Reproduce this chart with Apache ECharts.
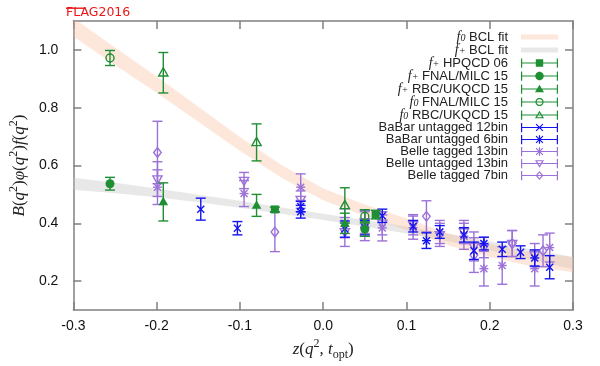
<!DOCTYPE html>
<html><head><meta charset="utf-8">
<script src="https://cdn.jsdelivr.net/npm/echarts@6/dist/echarts.min.js"></script>
<style>html,body{margin:0;padding:0;background:#fff}#c{width:600px;height:366px}</style>
</head><body><div id="c"></div>
<script>
// ---------------- data ----------------
const xTicks = [-0.3, -0.2, -0.1, 0, 0.1, 0.2, 0.3];
const yTicks = [0.2, 0.4, 0.6, 0.8, 1.0];

// fit bands (centre and half-width read at these z values)
const bandZ  = [-0.3, -0.25, -0.2, -0.15, -0.1, -0.05, 0, 0.05, 0.1, 0.15, 0.2, 0.25, 0.3];
const f0Mid  = [1.078, 0.978, 0.880, 0.777, 0.675, 0.580, 0.500, 0.445, 0.397, 0.345, 0.305, 0.275, 0.257];
const f0Half = [0.032, 0.030, 0.028, 0.026, 0.024, 0.022, 0.020, 0.020, 0.020, 0.021, 0.022, 0.024, 0.026];
const fpMid  = [0.537, 0.522, 0.505, 0.486, 0.466, 0.444, 0.422, 0.400, 0.377, 0.351, 0.322, 0.292, 0.262];
const fpHalf = [0.021, 0.018, 0.015, 0.013, 0.012, 0.011, 0.011, 0.011, 0.012, 0.013, 0.015, 0.018, 0.021];

// lattice
const hpqcdZ = [-0.058, 0.063];
const hpqcdY = [0.448, 0.430];
const hpqcdE = [0.008, 0.015];

const fnalPZ = [-0.256, 0.050];
const fnalPY = [0.537, 0.380];
const fnalPE = [0.022, 0.025];

const rbcPZ = [-0.192, -0.080, 0.026];
const rbcPY = [0.474, 0.462, 0.400];
const rbcPE = [0.066, 0.038, 0.035];

const fnal0Z = [-0.256, 0.050];
const fnal0Y = [0.972, 0.424];
const fnal0E = [0.026, 0.023];

const rbc0Z = [-0.192, -0.080, 0.026];
const rbc0Y = [0.921, 0.680, 0.462];
const rbc0E = [0.070, 0.064, 0.061];

// experiment
const babar12Z = [-0.147, -0.103, -0.027, 0.026, 0.071, 0.108, 0.140, 0.169, 0.181, 0.215, 0.237, 0.272];
const babar12Y = [0.449, 0.383, 0.458, 0.380, 0.426, 0.390, 0.370, 0.360, 0.305, 0.310, 0.300, 0.248];
const babar12E = [0.038, 0.023, 0.018, 0.028, 0.023, 0.020, 0.022, 0.025, 0.030, 0.025, 0.022, 0.040];

const babar6Z = [-0.027, 0.050, 0.124, 0.193, 0.254];
const babar6Y = [0.440, 0.385, 0.340, 0.330, 0.280];
const babar6E = [0.022, 0.025, 0.027, 0.022, 0.028];

const belleT13Z = [-0.199, -0.095, -0.027, 0.026, 0.050, 0.071, 0.108, 0.140, 0.169, 0.193, 0.215, 0.254, 0.272];
const belleT13Y = [0.525, 0.503, 0.525, 0.400, 0.390, 0.384, 0.385, 0.370, 0.355, 0.243, 0.254, 0.243, 0.316];
const belleT13E = [0.060, 0.045, 0.046, 0.050, 0.050, 0.045, 0.040, 0.040, 0.045, 0.060, 0.065, 0.060, 0.050];

const belleU13Z = [-0.199, -0.095, -0.027, 0.026, 0.050, 0.071, 0.108, 0.140, 0.169, 0.181, 0.193, 0.227, 0.254];
const belleU13Y = [0.553, 0.548, 0.482, 0.370, 0.405, 0.400, 0.395, 0.360, 0.370, 0.320, 0.316, 0.330, 0.290];
const belleU13E = [0.060, 0.028, 0.030, 0.050, 0.040, 0.040, 0.035, 0.040, 0.040, 0.050, 0.035, 0.045, 0.040];

const belleT7Z = [-0.199, -0.058, 0.050, 0.124, 0.181, 0.227, 0.264];
const belleT7Y = [0.645, 0.370, 0.400, 0.424, 0.290, 0.330, 0.305];
const belleT7E = [0.108, 0.068, 0.045, 0.054, 0.060, 0.045, 0.055];

// ---------------- styling ----------------
const GREEN = '#1f8f34', BLUE = '#1414f0', PURPLE = '#9c72d8';
const PEACH = 'rgba(250,185,150,0.34)', GREY = 'rgba(200,200,200,0.42)';
const LW = 1.4;

function marker(type, c, color) {
  const x = c[0], y = c[1];
  const st = {stroke: color, lineWidth: LW, fill: 'none'};
  const fl = {fill: color};
  const L = (x1, y1, x2, y2) => ({type: 'line', shape: {x1, y1, x2, y2}, style: st});
  switch (type) {
    case 'sqF': return [{type: 'rect', shape: {x: x - 4, y: y - 4, width: 8, height: 8}, style: fl}];
    case 'cirF': return [{type: 'circle', shape: {cx: x, cy: y, r: 4.5}, style: fl}];
    case 'triF': return [{type: 'polygon', shape: {points: [[x, y - 5.2], [x + 4.8, y + 3.4], [x - 4.8, y + 3.4]]}, style: fl}];
    case 'cirO': return [{type: 'circle', shape: {cx: x, cy: y, r: 4}, style: st}];
    case 'triO': return [{type: 'polygon', shape: {points: [[x, y - 5], [x + 4.6, y + 3.2], [x - 4.6, y + 3.2]]}, style: st}];
    case 'triDO': return [{type: 'polygon', shape: {points: [[x, y + 5], [x + 4.6, y - 3.2], [x - 4.6, y - 3.2]]}, style: st}];
    case 'diaO': return [{type: 'polygon', shape: {points: [[x, y - 4.8], [x + 3.8, y], [x, y + 4.8], [x - 3.8, y]]}, style: st}];
    case 'x': return [L(x - 3.5, y - 3.5, x + 3.5, y + 3.5), L(x - 3.5, y + 3.5, x + 3.5, y - 3.5)];
    case 'star': return [L(x - 3.5, y - 3.5, x + 3.5, y + 3.5), L(x - 3.5, y + 3.5, x + 3.5, y - 3.5),
                         L(x - 4.5, y, x + 4.5, y), L(x, y - 4.5, x, y + 4.5)];
  }
  return [];
}

function errRender(mk, color) {
  return function (params, api) {
    const z = api.value(0), v = api.value(1), e = api.value(2);
    const c = api.coord([z, v]), t = api.coord([z, v + e]), b = api.coord([z, v - e]);
    const st = {stroke: color, lineWidth: LW, fill: 'none'};
    const ch = [
      {type: 'line', shape: {x1: c[0], y1: t[1], x2: c[0], y2: b[1]}, style: st},
      {type: 'line', shape: {x1: c[0] - 5, y1: t[1], x2: c[0] + 5, y2: t[1]}, style: st},
      {type: 'line', shape: {x1: c[0] - 5, y1: b[1], x2: c[0] + 5, y2: b[1]}, style: st}
    ].concat(marker(mk, c, color));
    return {type: 'group', children: ch};
  };
}

function bandRender(mid, half, color) {
  return function (params, api) {
    if (params.dataIndex !== 0) return null;
    const pts = [];
    for (let i = 0; i < bandZ.length; i++) pts.push(api.coord([bandZ[i], mid[i] + half[i]]));
    for (let i = bandZ.length - 1; i >= 0; i--) pts.push(api.coord([bandZ[i], mid[i] - half[i]]));
    const cs = params.coordSys;
    return {type: 'polygon', shape: {points: pts}, style: {fill: color},
      clipPath: {type: 'rect', shape: {x: cs.x, y: cs.y, width: cs.width, height: cs.height}}};
  };
}

// ---- legend icon paths (filled polygons) ----
function poly(pts, cw) {
  let a = 0;
  for (let i = 0; i < pts.length; i++) { const p = pts[i], q = pts[(i + 1) % pts.length]; a += p[0] * q[1] - q[0] * p[1]; }
  if ((a > 0) !== cw) pts = pts.slice().reverse();
  return 'M' + pts.map(p => p[0].toFixed(2) + ',' + p[1].toFixed(2)).join('L') + 'Z';
}
function thick(x0, y0, x1, y1, w) {
  const dx = x1 - x0, dy = y1 - y0, l = Math.hypot(dx, dy), nx = -dy / l * w / 2, ny = dx / l * w / 2;
  return poly([[x0 + nx, y0 + ny], [x1 + nx, y1 + ny], [x1 - nx, y1 - ny], [x0 - nx, y0 - ny]], true);
}
function circ(cx, cy, r, cw) {
  const p = []; for (let i = 0; i < 28; i++) { const a = i / 28 * Math.PI * 2; p.push([cx + r * Math.cos(a), cy + r * Math.sin(a)]); }
  return poly(p, cw);
}
function shrink(pts, cx, cy, f) { return pts.map(p => [cx + (p[0] - cx) * f, cy + (p[1] - cy) * f]); }
const W = 1.3;
const BAR = thick(0, 5, 40, 5, W) + thick(W / 2, 0, W / 2, 10, W) + thick(40 - W / 2, 0, 40 - W / 2, 10, W);
function legIcon(mk) {
  let m = '';
  const tu = [[20, 0.3], [24.9, 8.6], [15.1, 8.6]];
  const td = [[20, 9.7], [24.9, 1.4], [15.1, 1.4]];
  const di = [[20, 0.2], [24.2, 5], [20, 9.8], [15.8, 5]];
  switch (mk) {
    case 'sqF': m = poly([[16, 1], [24, 1], [24, 9], [16, 9]], true); break;
    case 'cirF': m = circ(20, 5, 4.6, true); break;
    case 'triF': m = poly(tu, true); break;
    case 'cirO': m = circ(20, 5, 4.4, true) + circ(20, 5, 3.1, false); break;
    case 'triO': m = poly(tu, true) + poly(shrink(tu, 20, 5.8, 0.55), false); break;
    case 'triDO': m = poly(td, true) + poly(shrink(td, 20, 4.2, 0.55), false); break;
    case 'diaO': m = poly(di, true) + poly(shrink(di, 20, 5, 0.6), false); break;
    case 'x': m = thick(16.3, 1.3, 23.7, 8.7, W) + thick(16.3, 8.7, 23.7, 1.3, W); break;
    case 'star': m = thick(16.3, 1.3, 23.7, 8.7, W) + thick(16.3, 8.7, 23.7, 1.3, W) + thick(20, 0.3, 20, 9.7, W); break;
  }
  return 'path://' + BAR + m;
}
const BAND_ICON = 'path://M0,0L0.01,0L0,0.01Z M40,10L39.99,10L40,9.99Z ' + poly([[0, 2.3], [40, 2.3], [40, 7.7], [0, 7.7]], true);

const errDefs = [
  // name, z, y, e, marker, colour
  ['Belle tagged 7bin', belleT7Z, belleT7Y, belleT7E, 'diaO', PURPLE],
  ['Belle untagged 13bin', belleU13Z, belleU13Y, belleU13E, 'triDO', PURPLE],
  ['Belle tagged 13bin', belleT13Z, belleT13Y, belleT13E, 'star', PURPLE],
  ['BaBar untagged 6bin', babar6Z, babar6Y, babar6E, 'star', BLUE],
  ['BaBar untagged 12bin', babar12Z, babar12Y, babar12E, 'x', BLUE],
  ['f0 RBC/UKQCD 15', rbc0Z, rbc0Y, rbc0E, 'triO', GREEN],
  ['f0 FNAL/MILC 15', fnal0Z, fnal0Y, fnal0E, 'cirO', GREEN],
  ['f+ RBC/UKQCD 15', rbcPZ, rbcPY, rbcPE, 'triF', GREEN],
  ['f+ FNAL/MILC 15', fnalPZ, fnalPY, fnalPE, 'cirF', GREEN],
  ['f+ HPQCD 06', hpqcdZ, hpqcdY, hpqcdE, 'sqF', GREEN]
];

const series = [
  {type: 'custom', name: 'f+ BCL fit', renderItem: bandRender(fpMid, fpHalf, GREY),
   data: bandZ.map((z, i) => [z, fpMid[i]]), encode: {x: 0, y: 1}, itemStyle: {color: GREY}, silent: true},
  {type: 'custom', name: 'f0 BCL fit', renderItem: bandRender(f0Mid, f0Half, PEACH),
   data: bandZ.map((z, i) => [z, f0Mid[i]]), encode: {x: 0, y: 1}, itemStyle: {color: PEACH}, silent: true}
];
errDefs.forEach(d => {
  series.push({type: 'custom', name: d[0], renderItem: errRender(d[4], d[5]),
    data: d[1].map((z, i) => [z, d[2][i], d[3][i]]), encode: {x: 0, y: 1},
    itemStyle: {color: d[5]}, silent: true});
});

const legendOrder = [
  ['f0 BCL fit', BAND_ICON, PEACH],
  ['f+ BCL fit', BAND_ICON, GREY],
  ['f+ HPQCD 06', legIcon('sqF'), GREEN],
  ['f+ FNAL/MILC 15', legIcon('cirF'), GREEN],
  ['f+ RBC/UKQCD 15', legIcon('triF'), GREEN],
  ['f0 FNAL/MILC 15', legIcon('cirO'), GREEN],
  ['f0 RBC/UKQCD 15', legIcon('triO'), GREEN],
  ['BaBar untagged 12bin', legIcon('x'), BLUE],
  ['BaBar untagged 6bin', legIcon('star'), BLUE],
  ['Belle tagged 13bin', legIcon('star'), PURPLE],
  ['Belle untagged 13bin', legIcon('triDO'), PURPLE],
  ['Belle tagged 7bin', legIcon('diaO'), PURPLE]
];

const AX = '#808080';
const SANS = 'Liberation Sans', SERIF = 'Liberation Serif';
const fmt = v => (Math.abs(v) < 1e-9 ? 0 : v).toFixed(1);
const axisCommon = {
  axisLine: {show: true, onZero: false, lineStyle: {color: AX, width: 1.5}},
  axisTick: {show: true, inside: true, length: 8, lineStyle: {color: AX, width: 1.5}},
  splitLine: {show: false}
};
function mathRich(fs) {
  return {
    i: {fontFamily: SERIF, fontStyle: 'italic', fontSize: fs, lineHeight: fs + 6, color: '#222'},
    r: {fontFamily: SERIF, fontSize: fs, lineHeight: fs + 6, color: '#222'},
    sup: {fontFamily: SERIF, fontSize: Math.round(fs * 0.68), lineHeight: fs + 6, verticalAlign: 'top', color: '#222'},
    sub: {fontFamily: SERIF, fontSize: Math.round(fs * 0.68), lineHeight: fs + 6, verticalAlign: 'bottom', color: '#222'}
  };
}
const LEG_FS = 13;

const chart = echarts.init(document.getElementById('c'), null, {renderer: 'canvas'});
chart.setOption({
  animation: false,
  backgroundColor: '#fff',
  grid: {left: 66, right: 27, top: 21, bottom: 51, containLabel: false},
  xAxis: [
    Object.assign({type: 'value', position: 'bottom', min: xTicks[0], max: xTicks[xTicks.length - 1], interval: 0.1,
      axisLabel: {margin: 9, fontFamily: SANS, fontSize: 14, color: '#111', formatter: fmt,
        customValues: xTicks},
      name: '{i|z}{r|(}{i|q}{sup|2}{r|, }{i|t}{sub|opt}{r|)}', nameLocation: 'middle', nameGap: 28,
      nameTextStyle: {rich: mathRich(17)}}, axisCommon),
    Object.assign({type: 'value', position: 'top', min: xTicks[0], max: xTicks[xTicks.length - 1], interval: 0.1,
      axisLabel: {show: false}}, axisCommon)
  ],
  yAxis: [
    Object.assign({type: 'value', position: 'left', min: 0.1, max: 1.1,
      axisLabel: {margin: 15, fontFamily: SANS, fontSize: 14, color: '#111', formatter: fmt, customValues: yTicks},
      axisTick: Object.assign({}, axisCommon.axisTick, {customValues: yTicks}),
      name: '{i|B}{r|(}{i|q}{sup|2}{r|)}{i|φ}{r|(}{i|q}{sup|2}{r|)}{i|f}{r|(}{i|q}{sup|2}{r|)}',
      nameLocation: 'middle', nameGap: 35, nameRotate: 90,
      nameTextStyle: {rich: mathRich(17)}}, {axisLine: axisCommon.axisLine, splitLine: {show: false}}),
    Object.assign({type: 'value', position: 'right', min: 0.1, max: 1.1,
      axisLabel: {show: false, customValues: yTicks},
      axisTick: Object.assign({}, axisCommon.axisTick, {customValues: yTicks})},
      {axisLine: axisCommon.axisLine, splitLine: {show: false}})
  ],
  legend: {
    orient: 'vertical', right: 42, top: 30, padding: 0, align: 'right', selectedMode: false,
    itemWidth: 37, itemHeight: 10, itemGap: -1,
    textStyle: {fontFamily: SANS, fontSize: LEG_FS, lineHeight: 12, color: '#222', padding: [0, 8, 0, 0],
      rich: {
        t: {fontFamily: SANS, fontSize: LEG_FS, lineHeight: 12, color: '#222'},
        i: {fontFamily: SERIF, fontStyle: 'italic', fontSize: LEG_FS + 1, lineHeight: 12, color: '#222'},
        sb: {fontFamily: SERIF, fontStyle: 'italic', fontSize: 10, lineHeight: 12, verticalAlign: 'bottom', color: '#222'}
      }},
    formatter: function (name) {
      if (name.indexOf('f0 ') === 0) return '{i|f}{sb|0}{t| ' + name.slice(3) + '}';
      if (name.indexOf('f+ ') === 0) return '{i|f}{sb|+}{t| ' + name.slice(3) + '}';
      return '{t|' + name + '}';
    },
    data: legendOrder.map(l => ({name: l[0], icon: l[1], itemStyle: {color: l[2], borderWidth: 0}}))
  },
  graphic: [
    {type: 'text', left: 66, top: 6, style: {text: 'FLAG2016', fill: '#e81818', font: '12.5px "DejaVu Sans"'}},
    {type: 'rect', left: 66, top: 7.5, shape: {width: 19, height: 1.4}, style: {fill: '#e81818'}}
  ],
  series: series
});
</script></body></html>
